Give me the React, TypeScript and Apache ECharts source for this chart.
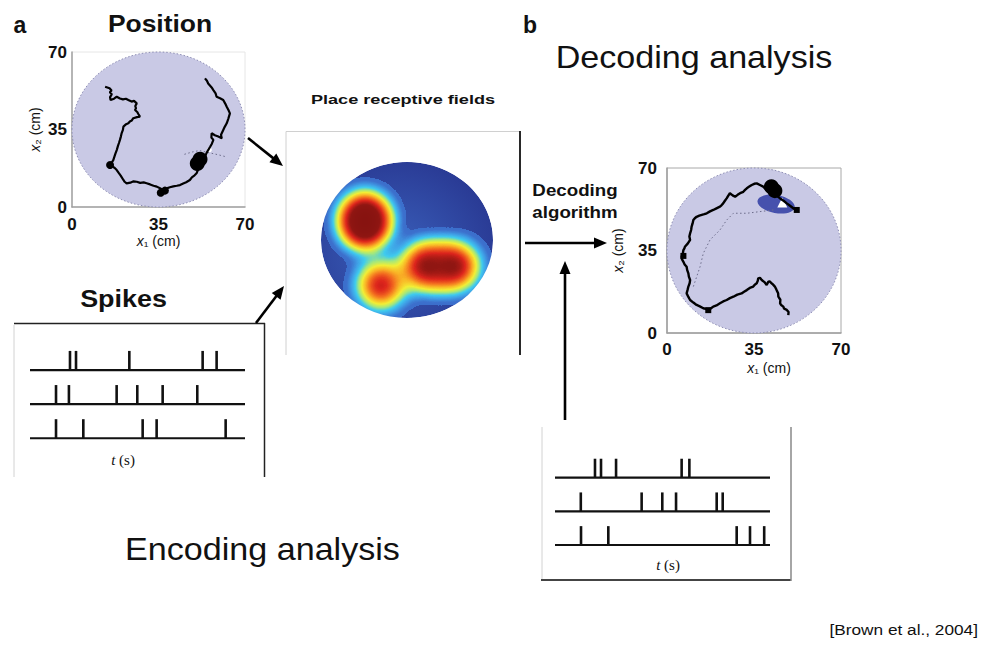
import React, { useEffect, useRef } from "react";
import * as echarts from "echarts";

const SANS = "'Liberation Sans', Arial, Helvetica, sans-serif";
const SERIF = "'Liberation Serif', 'DejaVu Serif', 'Times New Roman', serif";

// ---------- arena (cm) ----------
const arenaTicks = [0, 35, 70];
const arenaDisc = [[35, 35, 35]]; // centre x, centre y, radius

// ---------- encoding: observed path of the rat (cm) ----------
const observedPath = [
  [13.4, 54.3], [15.2, 53.6], [16.0, 52.6], [15.3, 51.8], [16.1, 50.9], [15.4, 49.6], [15.6, 48.3],
  [17.0, 48.9], [18.1, 49.8], [19.4, 49.0], [20.6, 48.6], [21.8, 48.9], [22.8, 48.3], [24.1, 47.6],
  [25.1, 47.9], [26.2, 46.8], [25.6, 45.6], [25.9, 44.6], [25.5, 43.8], [26.4, 42.9], [26.9, 41.9],
  [27.5, 40.8], [26.3, 40.6], [24.8, 40.1], [24.2, 39.1], [23.4, 38.6], [22.8, 37.8], [21.9, 37.4],
  [20.8, 36.3], [20.6, 34.8], [20.1, 33.4], [19.8, 31.9], [19.4, 30.3], [19.0, 28.9], [18.6, 27.6],
  [18.1, 25.7], [17.6, 24.2], [17.2, 22.9], [16.7, 21.2], [16.1, 20.1], [15.4, 19.0], [16.5, 18.2],
  [17.3, 17.6], [18.1, 16.7], [18.9, 15.4], [19.7, 14.2], [20.8, 12.2], [21.3, 11.4], [22.1, 10.7],
  [23.6, 11.0], [24.9, 11.6], [26.2, 11.4], [27.6, 10.9], [29.0, 11.1], [30.2, 10.7], [31.6, 10.2],
  [33.0, 9.6], [34.3, 9.2], [35.4, 8.6], [36.9, 7.7], [38.3, 8.4], [39.6, 8.9], [41.0, 9.3],
  [42.4, 9.6], [43.7, 9.9], [45.0, 10.6], [46.2, 11.2], [47.7, 12.2], [48.5, 13.4], [49.6, 14.3],
  [50.4, 15.2], [50.9, 16.6], [51.1, 18.2], [51.5, 19.8], [51.8, 21.2], [52.9, 21.9], [53.8, 22.7],
  [54.3, 24.0], [55.1, 25.7], [55.9, 27.2], [56.6, 28.6], [57.2, 30.3], [56.4, 31.4], [56.5, 33.3],
  [57.8, 32.4], [59.2, 31.8], [60.6, 31.0], [60.3, 32.6], [61.2, 34.8], [61.8, 36.2], [62.6, 37.8],
  [63.2, 39.7], [63.9, 42.3], [63.3, 43.8], [62.6, 45.3], [62.0, 46.7], [61.2, 48.3], [59.9, 49.1],
  [58.5, 49.8], [58.1, 51.3], [57.2, 52.8], [56.5, 54.0], [55.1, 55.8], [54.6, 57.0], [53.8, 58.1],
];
const observedDwellBig = [[51.8, 21.6], [50.7, 19.6]];
const observedDwellSmall = [[35.9, 6.4], [37.6, 7.4], [15.4, 19.0]];
const observedGap = [[55.6, 25.8]];
const observedTrace = [[45.5, 23.8], [48.5, 24.8], [51.5, 25.5], [55.5, 24.5], [59.5, 23.5], [62.6, 22.6]];

// ---------- decoding: true path, estimate and posterior (cm) ----------
const decodedTrue = [
  [48.8, 7.6], [48.9, 8.9], [48.2, 9.8], [47.1, 10.3], [46.8, 11.2], [45.9, 11.9], [45.5, 12.6],
  [45.6, 14.1], [44.8, 15.4], [44.7, 16.9], [44.1, 18.2], [43.7, 19.1], [43.4, 19.7], [42.6, 20.6],
  [42.1, 21.1], [41.3, 21.9], [40.8, 21.8], [40.4, 21.0], [40.1, 20.4], [39.2, 21.6], [38.1, 22.5],
  [37.4, 23.4], [36.7, 23.2], [36.5, 22.1], [36.1, 21.1], [35.3, 20.5], [34.7, 19.7], [33.3, 19.1],
  [32.1, 18.2], [31.0, 17.5], [30.0, 16.8], [28.3, 16.3], [26.7, 15.4], [25.3, 14.8], [24.0, 14.0],
  [22.6, 13.4], [21.3, 12.6], [19.9, 11.7], [18.6, 11.2], [17.6, 10.4], [16.6, 9.8], [15.6, 10.2],
  [14.6, 10.5], [13.2, 11.3], [11.9, 11.9], [10.6, 12.9], [9.3, 14.0], [8.6, 15.3], [7.9, 16.8],
  [8.3, 18.4], [8.6, 19.7], [9.1, 21.1], [9.3, 22.5], [8.8, 23.9], [8.6, 25.3], [8.1, 26.8],
  [7.9, 28.1], [7.1, 29.1], [6.6, 30.2], [6.0, 31.3], [5.9, 32.4], [6.4, 33.9], [6.6, 35.2],
  [7.0, 35.9], [7.2, 36.6], [8.4, 38.0], [9.3, 39.5], [9.0, 40.9], [9.3, 42.3], [9.7, 43.7],
  [9.9, 45.1], [10.3, 46.5], [10.6, 47.9], [11.2, 48.7], [11.9, 49.3], [13.0, 49.8], [14.0, 50.1],
  [15.0, 50.4], [16.0, 50.8], [17.3, 51.6], [18.6, 52.2], [19.9, 52.9], [21.3, 53.6], [22.0, 54.3],
  [22.6, 55.0], [23.3, 56.1], [24.0, 57.1], [24.6, 58.2], [25.3, 59.3], [26.4, 58.4], [27.4, 57.8],
  [28.4, 58.6], [29.4, 59.3], [30.7, 59.9], [31.4, 60.7], [32.1, 61.4], [33.1, 62.1], [34.1, 62.8],
  [35.1, 63.3], [36.1, 63.5], [37.4, 62.8], [38.7, 62.1], [39.4, 61.4], [40.1, 60.7], [41.5, 60.0],
  [42.8, 59.3], [44.2, 58.2], [45.5, 57.1], [46.9, 56.1], [48.2, 55.0], [49.5, 54.0], [50.8, 52.9],
  [52.2, 52.2],
];
const decodedEstimate = [
  [10.6, 19.7], [13.3, 28.1], [14.6, 33.8], [17.3, 39.5], [21.3, 43.7], [24.0, 47.9], [26.7, 50.8],
  [32.1, 50.8], [37.4, 51.5], [42.8, 52.2],
];
const decodedNow = [[43.4, 60.4], [42.0, 62.0]];
const decodedNodes = [[6.6, 32.7], [16.6, 9.7], [52.2, 52.2]];
const posteriorEllipse = [[43.9, 54.7, 7.6, 3.8]]; // mean x, mean y, spread x, spread y
const posteriorGap = [[46.4, 55.4]];

// ---------- place receptive fields: hot spots (cm) and relative rate ----------
const placeFieldSpots = [
  [17.9, 45.8, 1.0],
  [17.9, 41.3, 1.0],
  [41.9, 23.3, 0.9],
  [48.4, 23.3, 0.4],
  [54.9, 23.3, 0.9],
  [24.4, 14.8, 0.88],
];
// jet-like ramp (low end transparent so the arena floor shows through)
const heatColors = [
  "rgba(58,108,200,0)",
  "rgba(60,112,205,0.95)",
  "#3f9fe6",
  "#3fcbee",
  "#a6e87a",
  "#f2ee35",
  "#f9b526",
  "#f26a1f",
  "#dc241c",
  "#901612",
  "#861310",
];

// ---------- spike trains, three cells, times within a 1 s window ----------
const cellRows = [2, 1, 0];
const encodingSpikes = [
  [0.186, 0.214, 0.462, 0.803, 0.868],
  [0.121, 0.181, 0.403, 0.499, 0.617, 0.778],
  [0.121, 0.248, 0.524, 0.589, 0.91],
];
const decodingSpikes = [
  [0.186, 0.214, 0.284, 0.589, 0.625],
  [0.12, 0.403, 0.499, 0.563, 0.752, 0.78],
  [0.121, 0.248, 0.845, 0.907, 0.973],
];

// ---------- layout ----------
const HM = { cx: 407, cy: 240, rx: 86, ry: 78 };
const SPIKE_H = 0.56;

// arena outline used by the place-field map
const ring: number[][] = [];
for (let i = 0; i <= 120; i++) {
  const a = (i / 120) * Math.PI * 2;
  ring.push([35 + 35 * Math.cos(a), 35 + 35 * Math.sin(a)]);
}
echarts.registerMap("arena", {
  type: "FeatureCollection",
  features: [{ type: "Feature", properties: { name: "arena" }, geometry: { type: "Polygon", coordinates: [ring] } }],
} as any);

// white frame with an elliptical hole that trims the rate map to the arena
const maskPath = (() => {
  const { cx, cy, rx, ry } = HM;
  const l = cx - rx - 4, r = cx + rx + 4, t = cy - ry - 4, b = cy + ry + 4;
  return (
    `M${l} ${t} L${r} ${t} L${r} ${b} L${l} ${b} Z ` +
    `M${cx + rx} ${cy} A${rx} ${ry} 0 0 0 ${cx} ${cy - ry} A${rx} ${ry} 0 0 0 ${cx - rx} ${cy} ` +
    `A${rx} ${ry} 0 0 0 ${cx} ${cy + ry} A${rx} ${ry} 0 0 0 ${cx + rx} ${cy} Z`
  );
})();
echarts.graphic.registerShape("arenaMask", echarts.graphic.extendPath(maskPath, {}));

function txt(text: string, x: number, y: number, size: number, opts: any = {}) {
  return {
    type: "text",
    x,
    y,
    scaleX: opts.sx ?? 1,
    silent: true,
    z: 20,
    style: {
      text,
      fontSize: size,
      fontWeight: opts.weight ?? "normal",
      fontFamily: opts.family ?? SANS,
      fill: "#111",
      align: opts.align ?? "center",
      verticalAlign: "middle",
      rich: opts.rich,
    },
  };
}

function seg(x1: number, y1: number, x2: number, y2: number, color: string, w: number) {
  return { type: "line", silent: true, z: 5, shape: { x1, y1, x2, y2 }, style: { stroke: color, lineWidth: w } };
}

function arrow(x1: number, y1: number, x2: number, y2: number) {
  const L = 13, W = 5.5;
  const dx = x2 - x1, dy = y2 - y1, d = Math.hypot(dx, dy);
  const ux = dx / d, uy = dy / d;
  const bx = x2 - ux * L, by = y2 - uy * L;
  return [
    { type: "line", silent: true, z: 6, shape: { x1, y1, x2: bx + ux * 2, y2: by + uy * 2 }, style: { stroke: "#000", lineWidth: 2.6 } },
    {
      type: "polygon",
      silent: true,
      z: 6,
      shape: { points: [[x2, y2], [bx - uy * W, by + ux * W], [bx + uy * W, by - ux * W]] },
      style: { fill: "#000" },
    },
  ];
}

const arenaItem = (params: any, api: any) => {
  const c = api.coord([api.value(0), api.value(1)]);
  const s = api.size([api.value(2), api.value(2)]);
  return {
    type: "ellipse",
    shape: { cx: c[0], cy: c[1], rx: s[0], ry: s[1] },
    style: { fill: "#c9c9e5", stroke: "#8f8fb5", lineWidth: 1, lineDash: [1.5, 2] },
  };
};

const spikeItem = (params: any, api: any) => {
  const p0 = api.coord([api.value(0), api.value(1)]);
  const p1 = api.coord([api.value(0), api.value(1) + SPIKE_H]);
  return { type: "line", shape: { x1: p0[0], y1: p0[1], x2: p1[0], y2: p1[1] }, style: { stroke: "#111", lineWidth: 2.6 } };
};

const tickLabel = { color: "#111", fontFamily: SANS, fontWeight: "bold", fontSize: 17 };
const nameStyle = {
  color: "#111",
  fontFamily: SANS,
  fontSize: 14,
  rich: { i: { fontStyle: "italic", fontFamily: SANS, fontSize: 14, color: "#111" } },
};

function arenaAxis(gridIndex: number, margin: number, name: string, gap: number, extra: any = {}) {
  return {
    gridIndex,
    type: "value",
    min: arenaTicks[0],
    max: arenaTicks[arenaTicks.length - 1],
    interval: arenaTicks[1] - arenaTicks[0],
    axisLine: { show: true, onZero: false, lineStyle: { color: "#a0a0a0", width: 1.5 } },
    axisTick: { show: false },
    splitLine: { show: false },
    axisLabel: { ...tickLabel, margin },
    name,
    nameLocation: "middle",
    nameGap: gap,
    nameTextStyle: { ...nameStyle, ...extra },
  };
}

const hidden = (gridIndex: number, max: number) => ({ gridIndex, type: "value", min: 0, max, show: false });

function rasterSeries(gridIndex: number, trains: number[][]) {
  const out: any[] = cellRows.map((r) => ({
    type: "line",
    xAxisIndex: gridIndex,
    yAxisIndex: gridIndex,
    data: [[0, r], [1, r]],
    symbol: "none",
    silent: true,
    lineStyle: { color: "#111", width: 2.2 },
  }));
  const pts: number[][] = [];
  trains.forEach((times, i) => times.forEach((t) => pts.push([t, cellRows[i]])));
  out.push({ type: "custom", xAxisIndex: gridIndex, yAxisIndex: gridIndex, data: pts, renderItem: spikeItem, silent: true });
  return out;
}

function buildOption(): any {
  const pathLine = (grid: number, data: number[][], width: number) => ({
    type: "line",
    xAxisIndex: grid,
    yAxisIndex: grid,
    data,
    symbol: "none",
    silent: true,
    lineStyle: { color: "#000", width },
  });
  const dotted = (grid: number, data: number[][]) => ({
    type: "line",
    xAxisIndex: grid,
    yAxisIndex: grid,
    data,
    symbol: "none",
    silent: true,
    lineStyle: { color: "#6c6c8a", width: 1, type: [1.5, 2.5] },
  });
  const dots = (grid: number, data: number[][], size: number, color: string, symbol = "circle") => ({
    type: "scatter",
    xAxisIndex: grid,
    yAxisIndex: grid,
    data,
    symbol,
    symbolSize: size,
    silent: true,
    itemStyle: { color, opacity: 1 },
  });

  const series: any[] = [
    { type: "custom", xAxisIndex: 0, yAxisIndex: 0, data: arenaDisc, renderItem: arenaItem, silent: true },
    dotted(0, observedTrace),
    pathLine(0, observedPath, 2.2),
    dots(0, observedDwellBig, 15, "#000"),
    dots(0, observedDwellSmall, 8, "#000"),
    dots(0, observedGap, 5, "#fff"),

    { type: "custom", xAxisIndex: 1, yAxisIndex: 1, data: arenaDisc, renderItem: arenaItem, silent: true },
    {
      type: "custom",
      xAxisIndex: 1,
      yAxisIndex: 1,
      data: posteriorEllipse,
      silent: true,
      renderItem: (p: any, api: any) => {
        const c = api.coord([api.value(0), api.value(1)]);
        const s = api.size([api.value(2), api.value(3)]);
        return {
          type: "ellipse",
          x: c[0],
          y: c[1],
          rotation: -0.18,
          shape: { cx: 0, cy: 0, rx: s[0], ry: s[1] },
          style: { fill: "#4651ad" },
        };
      },
    },
    dotted(1, decodedEstimate),
    pathLine(1, decodedTrue, 2.4),
    dots(1, decodedNow, 15, "#000"),
    dots(1, decodedNodes, 6, "#000", "rect"),
    dots(1, posteriorGap, 10, "#fff", "triangle"),

    ...rasterSeries(2, encodingSpikes),
    ...rasterSeries(3, decodingSpikes),
  ];

  const heatIndex = series.length;
  series.push({
    type: "heatmap",
    coordinateSystem: "geo",
    geoIndex: 0,
    data: placeFieldSpots,
    pointSize: 24,
    blurSize: 22,
    minOpacity: 1,
    maxOpacity: 1,
    silent: true,
  });

  const graphics: any[] = [
    txt("a", 20, 25, 23, { weight: "bold" }),
    txt("Position", 160, 24.6, 23, { weight: "bold", sx: 1.15 }),
    txt("b", 530, 25, 23, { weight: "bold" }),
    txt("Decoding analysis", 694, 58, 31, { sx: 1.1 }),
    txt("Place receptive fields", 403, 100, 12.5, { weight: "bold", sx: 1.45 }),
    txt("Spikes", 123.5, 299, 23, { weight: "bold", sx: 1.17 }),
    txt("Decoding", 575, 190, 16, { weight: "bold", sx: 1.17 }),
    txt("algorithm", 575, 212, 16, { weight: "bold", sx: 1.17 }),
    txt("Encoding analysis", 262.5, 550, 31, { sx: 1.1 }),
    txt("[Brown et al., 2004]", 978, 629, 15, { sx: 1.15, align: "right" }),
    txt("{i|t} (s)", 123, 460, 15, { family: SERIF, rich: { i: { fontStyle: "italic", fontFamily: SERIF, fontSize: 15 } } }),
    txt("{i|t} (s)", 668, 565, 15, { family: SERIF, rich: { i: { fontStyle: "italic", fontFamily: SERIF, fontSize: 15 } } }),

    // spike panel frame
    seg(14, 323.5, 265, 323.5, "#222", 1.5),
    seg(264.5, 323, 264.5, 477, "#222", 1.5),
    seg(14, 325, 14, 477, "#d2d2d2", 1),
    // rate map frame
    seg(286, 131.5, 286, 355, "#d0d0d0", 1),
    seg(286, 131.5, 520, 131.5, "#d0d0d0", 1),
    seg(520, 131, 520, 355, "#111", 1.8),
    // decoding spike frame
    seg(542, 427, 542, 580, "#d2d2d2", 1),
    seg(541, 580, 791, 580, "#444", 2),
    seg(791, 427, 791, 581, "#888", 1.5),

    ...arrow(248, 138, 283, 166),
    ...arrow(256, 323, 284, 286),
    ...arrow(525, 243, 607, 243),
    ...arrow(565, 420, 565, 261),

    { type: "arenaMask", x: 0, y: 0, z: 10, silent: true, style: { fill: "#fff" } },
  ];

  return {
    animation: false,
    backgroundColor: "#fff",
    textStyle: { fontFamily: SANS },
    grid: [
      { left: 72, top: 52, width: 173, height: 155, show: true, borderColor: "#e6e6e6", borderWidth: 1, backgroundColor: "transparent" },
      { left: 667, top: 168, width: 174, height: 165, show: true, borderColor: "#a8a8a8", borderWidth: 1, backgroundColor: "transparent" },
      { left: 30, top: 335.9, width: 215, height: 102.4 },
      { left: 555, top: 443.9, width: 215, height: 101.1 },
    ],
    xAxis: [
      arenaAxis(0, 9, "{i|x}\u2081 (cm)", 24),
      arenaAxis(1, 8, "{i|x}\u2081 (cm)", 28, { padding: [0, 0, 0, 30] }),
      hidden(2, 1),
      hidden(3, 1),
    ],
    yAxis: [
      arenaAxis(0, 5, "{i|x}\u2082 (cm)", 30),
      arenaAxis(1, 10, "{i|x}\u2082 (cm)", 42),
      hidden(2, 3),
      hidden(3, 3),
    ],
    geo: {
      map: "arena",
      roam: false,
      silent: true,
      aspectScale: HM.rx / HM.ry,
      layoutCenter: [HM.cx, HM.cy],
      layoutSize: HM.rx * 2,
      label: { show: false },
      itemStyle: {
        areaColor: {
          type: "radial",
          x: 0.42,
          y: 0.58,
          r: 0.72,
          colorStops: [
            { offset: 0, color: "#3a60bb" },
            { offset: 1, color: "#27348e" },
          ],
        },
        borderWidth: 0,
      },
      emphasis: { disabled: true },
      select: { disabled: true },
    },
    visualMap: [
      { type: "continuous", show: false, min: 0, max: 1, seriesIndex: heatIndex, inRange: { color: heatColors } },
    ],
    series,
    graphic: { elements: graphics },
  };
}

export default function App() {
  const ref = useRef<HTMLDivElement>(null);
  useEffect(() => {
    if (!ref.current) return;
    const chart = echarts.init(ref.current, null, { renderer: "svg" });
    chart.setOption(buildOption());
    return () => chart.dispose();
  }, []);
  return (
    <div
      ref={ref}
      style={{ position: "fixed", left: 0, top: 0, width: 981, height: 647, background: "#fff" }}
    />
  );
}
